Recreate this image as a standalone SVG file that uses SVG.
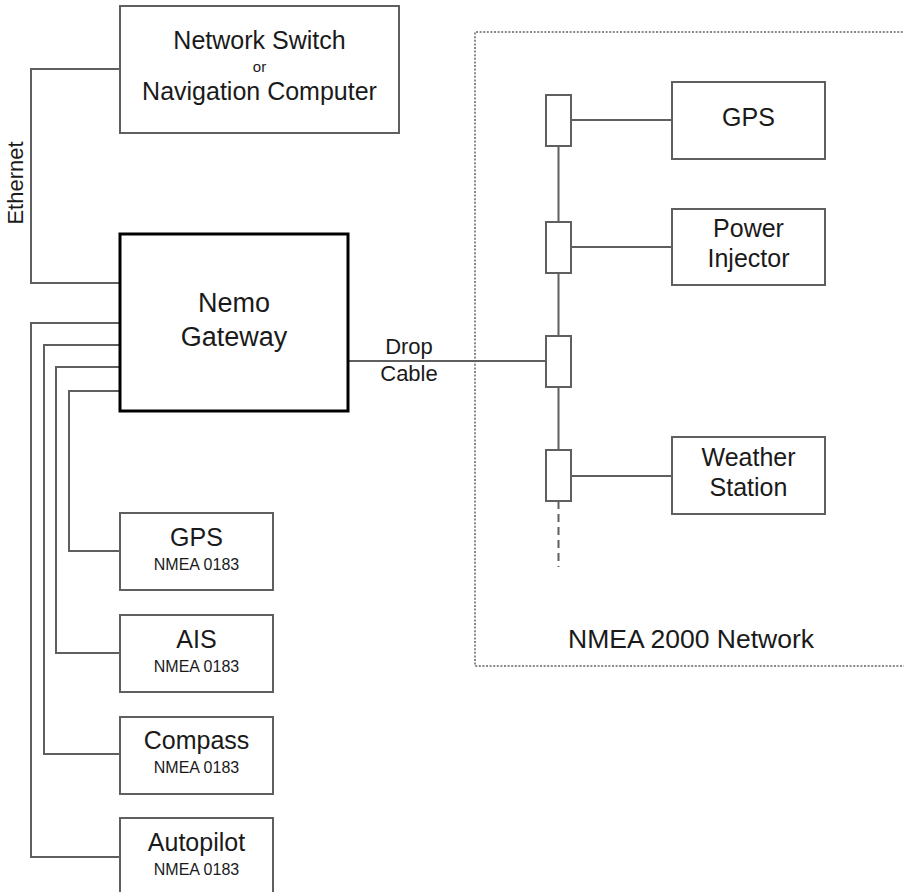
<svg xmlns="http://www.w3.org/2000/svg" width="904" height="892" viewBox="0 0 904 892">
<style>
.box{fill:#fff;stroke:#5f5f5f;stroke-width:2}
.main{fill:#fff;stroke:#000;stroke-width:3}
.conn{fill:#fff;stroke:#5f5f5f;stroke-width:2}
.wire{fill:none;stroke:#5f5f5f;stroke-width:2}
.dash{fill:none;stroke:#5f5f5f;stroke-width:2;stroke-dasharray:8 5}
.frame{fill:none;stroke:#8a8a8a;stroke-width:2;stroke-dasharray:2 1.6}
text{font-family:"Liberation Sans",Arial,sans-serif;fill:#1a1a1a;text-anchor:middle}
.t{font-size:25px}
.s{font-size:16px}
.l{font-size:22px}
</style>
<rect width="904" height="892" fill="#fff"/>
<g id="nmea2000-frame">
<path class="frame" d="M910,32 H475 V666 H910"/>
<text class="t" x="691" y="648" style="font-size:26.5px">NMEA 2000 Network</text>
</g>
<g id="connectors">
<path class="wire" d="M120,69 H31 V283 H120"/>
<path class="wire" d="M120,323 H31 V857 H120"/>
<path class="wire" d="M120,345 H44 V754 H120"/>
<path class="wire" d="M120,367 H56 V653 H120"/>
<path class="wire" d="M120,391 H69 V551 H120"/>
<path class="wire" d="M348,361 H546"/>
<path class="wire" d="M558.5,146 V222 M558.5,273 V336 M558.5,387 V450"/>
<path class="dash" d="M558.5,501 V567"/>
<path class="wire" d="M571,120 H672 M571,247 H672 M571,476 H672"/>
<text class="l" transform="translate(23,183) rotate(-90)">Ethernet</text>
<text class="l" x="409" y="354">Drop</text>
<text class="l" x="409" y="381">Cable</text>
</g>
<g id="network-switch">
<rect class="box" x="120" y="6" width="279" height="127"/>
<text class="t" x="259.5" y="49">Network Switch</text>
<text x="259.5" y="72" style="font-size:15px">or</text>
<text class="t" x="259.5" y="100">Navigation Computer</text>
</g>
<g id="nemo-gateway">
<rect class="main" x="120" y="234" width="228" height="177"/>
<text x="234" y="312" style="font-size:27px">Nemo</text>
<text x="234" y="346" style="font-size:27px">Gateway</text>
</g>
<g id="gps-0183">
<rect class="box" x="120" y="513" width="153" height="77"/>
<text class="t" x="196.5" y="546">GPS</text>
<text class="s" x="196.5" y="570">NMEA 0183</text>
</g>
<g id="ais-0183">
<rect class="box" x="120" y="615" width="153" height="77"/>
<text class="t" x="196.5" y="648">AIS</text>
<text class="s" x="196.5" y="672">NMEA 0183</text>
</g>
<g id="compass-0183">
<rect class="box" x="120" y="717" width="153" height="77"/>
<text class="t" x="196.5" y="749">Compass</text>
<text class="s" x="196.5" y="773">NMEA 0183</text>
</g>
<g id="autopilot-0183">
<rect class="box" x="120" y="818" width="153" height="77"/>
<text class="t" x="196.5" y="851">Autopilot</text>
<text class="s" x="196.5" y="875">NMEA 0183</text>
</g>
<g id="tee-1"><rect class="conn" x="546" y="95" width="25" height="51"/></g>
<g id="tee-2"><rect class="conn" x="546" y="222" width="25" height="51"/></g>
<g id="tee-3"><rect class="conn" x="546" y="336" width="25" height="51"/></g>
<g id="tee-4"><rect class="conn" x="546" y="450" width="25" height="51"/></g>
<g id="gps-2000">
<rect class="box" x="672" y="82" width="153" height="77"/>
<text class="t" x="748.5" y="126">GPS</text>
</g>
<g id="power-injector">
<rect class="box" x="672" y="209" width="153" height="76"/>
<text class="t" x="748.5" y="237">Power</text>
<text class="t" x="748.5" y="267">Injector</text>
</g>
<g id="weather-station">
<rect class="box" x="672" y="437" width="153" height="77"/>
<text class="t" x="748.5" y="466">Weather</text>
<text class="t" x="748.5" y="496">Station</text>
</g>
</svg>
